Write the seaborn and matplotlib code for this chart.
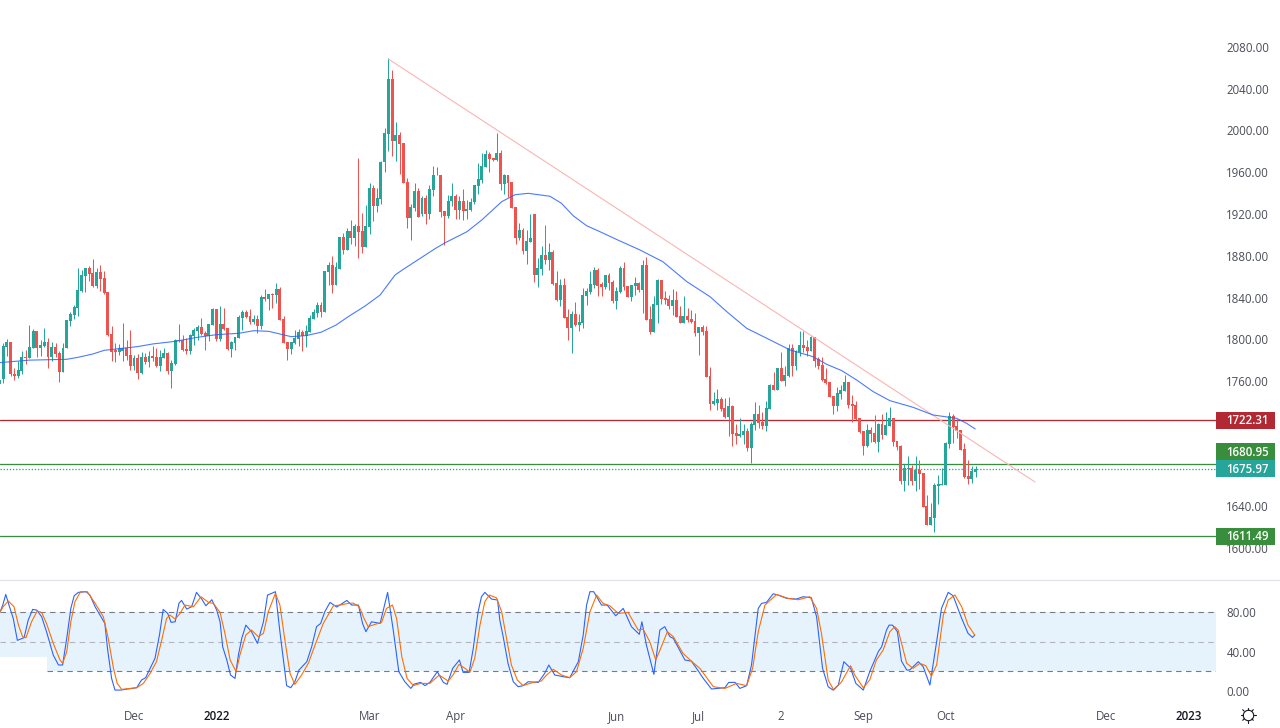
import matplotlib
matplotlib.use("Agg")
import matplotlib.pyplot as plt
from matplotlib.patches import Rectangle
from matplotlib.transforms import blended_transform_factory
import numpy as np
import seaborn as sns

# daily candles, bar 0 is the first one on the left
opens = [1757, 1762, 1793, 1797.4, 1767, 1765, 1770, 1783, 1782, 1792, 1808, 1792, 1793.6, 1797.4, 1783, 1792.6,
         1787, 1768.7, 1791.7, 1817.5, 1823, 1830, 1846, 1860.6, 1868, 1863.5, 1851, 1864, 1858.7, 1845,
         1805, 1789.7, 1787.8, 1788.8, 1791.7, 1785, 1774.4, 1782, 1767.7, 1783, 1778.3, 1784, 1783, 1774.4,
         1782, 1786.9, 1769.6, 1776.3, 1799, 1799, 1790.7, 1788.8, 1803, 1808, 1811.8, 1806, 1803, 1813.7,
         1829, 1800, 1814.7, 1810.8, 1790.7, 1796.5, 1801, 1820, 1826, 1822, 1816.6, 1819, 1812.7, 1840.5,
         1838.6, 1843, 1842, 1848, 1819, 1797.4, 1790.7, 1796.5, 1800, 1807, 1803, 1807, 1819, 1825,
         1833, 1826, 1864, 1871, 1852, 1867, 1898, 1885.5, 1903.7, 1896.7, 1908.5, 1903.7, 1888.4, 1908,
         1944.6, 1927.7, 1934.4, 1969.8, 1996.6, 2049.3, 1990, 1995.7, 1988, 1950.7, 1916, 1925.7, 1942, 1920,
         1935.3, 1920, 1943, 1957, 1957.4, 1923, 1918, 1932, 1937.2, 1923.8, 1932.5, 1923, 1923.8, 1931.5,
         1946.8, 1952.5, 1965, 1977.5, 1973.6, 1971.7, 1978.4, 1948.7, 1957.4, 1950.7, 1926.7, 1897, 1904.7, 1884.6,
         1893, 1920, 1861.6, 1867.3, 1880.7, 1876, 1883.6, 1854, 1837.6, 1852, 1821.3, 1810.8, 1824.2, 1813.7,
         1815.6, 1841.4, 1845.3, 1852, 1866.4, 1853, 1850, 1861.6, 1854.9, 1836.7, 1845.3, 1868.3, 1851, 1840.5,
         1851, 1853.9, 1847.2, 1871.2, 1819.4, 1807, 1832.8, 1856.8, 1839.5, 1838.6, 1831.9, 1837.6, 1822.3, 1815.6,
         1822.3, 1819.4, 1817.5, 1806, 1811.8, 1808, 1764.8, 1738, 1739, 1742.8, 1734.2, 1725.5, 1736.1, 1710.2,
         1707.3, 1707.9, 1712.1, 1695.9, 1717.9, 1728.4, 1720.8, 1716.9, 1733.2, 1756.2, 1751.4, 1772.5, 1760, 1764.8,
         1791.6, 1774.4, 1787.8, 1794.5, 1792.6, 1788.8, 1802.2, 1781.1, 1775.4, 1762, 1759.1, 1745.7, 1736.1, 1747.6,
         1750.5, 1759.1, 1738, 1737.1, 1724.6, 1712.2, 1697.8, 1713.1, 1710.3, 1701.6, 1718.9, 1708.3, 1717, 1724.6,
         1702.6, 1697.8, 1664.3, 1675.5, 1676.4, 1664.3, 1674.8, 1672, 1640.3, 1622.1, 1628.8, 1659.5, 1660.4, 1660.4,
         1699.7, 1726.5, 1717, 1713.1, 1695, 1669.1, 1666.2, 1672.9]
highs = [1762, 1796.5, 1800, 1797.4, 1772, 1779, 1789, 1790, 1813.7, 1810, 1808, 1799, 1810.8, 1801, 1797.4, 1796.5,
         1789, 1796.5, 1818.5, 1826, 1833, 1868, 1866, 1868, 1870, 1877, 1868, 1871, 1865, 1845,
         1812.7, 1796.5, 1795.5, 1815.6, 1799, 1808.9, 1785, 1785.9, 1787.8, 1786.9, 1788.8, 1793.6, 1791.7, 1790,
         1791.7, 1788, 1780, 1800, 1814.7, 1804, 1801, 1805, 1810.8, 1813.7, 1820, 1808, 1814.7, 1830,
         1829, 1832, 1830, 1810.8, 1798, 1802, 1823, 1828, 1828, 1829, 1823, 1823, 1842, 1848,
         1843, 1844, 1853.9, 1850, 1822, 1797.4, 1797.4, 1808.9, 1810, 1808.9, 1813.7, 1823, 1829, 1835.7,
         1835.7, 1865, 1874, 1880, 1874, 1898, 1902, 1907, 1914, 1910.4, 1973.7, 1921, 1928.6, 1949.4,
         1947.8, 1944.6, 1970.8, 2002.4, 2069.4, 2058, 2008, 1998.6, 1988, 1954.5, 1929.6, 1949.7, 1945, 1937,
         1938, 1947.8, 1966, 1964.7, 1957.4, 1923, 1938.2, 1949.4, 1939, 1937, 1944, 1933.4, 1935, 1947.8,
         1968.9, 1978.4, 1981.3, 1979.4, 1973.6, 1997.6, 1981.3, 1958.3, 1957.4, 1950.7, 1926.7, 1911.4, 1906.6, 1904.7,
         1920, 1920, 1877.9, 1889.4, 1909.5, 1892.2, 1885.5, 1865.4, 1857.7, 1858.7, 1829, 1827.1, 1835.7, 1824,
         1849.1, 1849.1, 1865.4, 1869.2, 1868.3, 1854.9, 1861.6, 1863.5, 1856.8, 1850, 1870.2, 1874, 1851, 1852,
         1859.7, 1855, 1875.9, 1878.8, 1831.9, 1841.5, 1857.7, 1856.8, 1846.2, 1842.4, 1848.2, 1846.2, 1831.9, 1841.5,
         1829.9, 1828, 1825.2, 1811.8, 1813.7, 1812.7, 1773.4, 1749.5, 1752.4, 1744.7, 1743.8, 1744.7, 1737, 1718.9,
         1724.6, 1718.9, 1715, 1720.8, 1740, 1737, 1730.3, 1740.9, 1757.2, 1768.7, 1772.5, 1787.8, 1774.4, 1795.5,
         1795.5, 1789.7, 1808, 1808, 1799.3, 1803.2, 1802.2, 1783, 1783, 1772.5, 1759.1, 1745.7, 1754.3, 1756.2,
         1765.8, 1759.1, 1746.7, 1740.9, 1724.6, 1712.2, 1718.9, 1716, 1727.5, 1719.8, 1728.5, 1730.4, 1735.2, 1724.6,
         1702.6, 1698.8, 1680.6, 1688.2, 1679.6, 1688.2, 1684.4, 1672, 1650.9, 1643.2, 1662.4, 1670, 1676.7, 1701.6,
         1730.4, 1728.5, 1723.7, 1713.1, 1700.7, 1684.4, 1678.6, 1678.6]
lows = [1754, 1758.5, 1784, 1765, 1761, 1763, 1767, 1776, 1781.7, 1792, 1782.7, 1784, 1793, 1772.5, 1779, 1783,
        1759, 1768.7, 1791.7, 1812.7, 1819.5, 1822, 1845, 1845, 1856, 1850, 1849, 1846, 1843, 1803,
        1779, 1778.3, 1785, 1779, 1780, 1770.6, 1770.6, 1762, 1766.8, 1776.3, 1773.4, 1779, 1773.4, 1769.6,
        1782, 1766.8, 1753.7, 1775.4, 1797.4, 1788.8, 1786, 1786, 1794.5, 1799, 1804, 1789.7, 1798, 1813.7,
        1798, 1798, 1808.9, 1789.7, 1783, 1789.7, 1801, 1808.9, 1820, 1814.7, 1814.7, 1806, 1809.9, 1836.7,
        1828, 1830, 1834.8, 1818.5, 1796.5, 1780, 1785.9, 1795.5, 1793.6, 1788.8, 1792.6, 1807, 1819, 1821,
        1821, 1826, 1852, 1844, 1852, 1867, 1882, 1885.5, 1891, 1889.4, 1878, 1882.7, 1888.4, 1900.9,
        1913.3, 1922, 1929.6, 1960.2, 1980.4, 1975.6, 1970.8, 1958.3, 1949.7, 1906.6, 1895, 1923, 1917, 1918,
        1910.4, 1915.2, 1937.2, 1957, 1917.4, 1890.3, 1915.9, 1927.7, 1915, 1915, 1914, 1915.2, 1923, 1930,
        1939, 1949.7, 1965, 1960.2, 1971, 1970.8, 1943, 1939, 1936.6, 1925.7, 1891.3, 1895.1, 1881.7, 1872.1,
        1893, 1854.9, 1850, 1861.6, 1872, 1866.4, 1852, 1836.7, 1831.9, 1820.4, 1799.3, 1786.9, 1812.7, 1808.2,
        1810.8, 1832.8, 1843.4, 1849.1, 1841.5, 1841.5, 1848.2, 1847.2, 1834.4, 1829, 1844.3, 1847.2, 1840.5, 1836.7,
        1842.4, 1845, 1825.2, 1818.5, 1805.1, 1807, 1815.6, 1833.8, 1833.8, 1829, 1823.3, 1821.3, 1815.6, 1815.6,
        1816.6, 1815.6, 1803.1, 1784.9, 1804.1, 1763.9, 1732.3, 1737, 1732.3, 1731.3, 1724.6, 1707.3, 1697.8, 1699.7,
        1706.4, 1699.7, 1693, 1681.2, 1713.1, 1715, 1714.1, 1712.1, 1733.2, 1751.4, 1751.4, 1760, 1755, 1763.9,
        1764.8, 1770.6, 1784, 1787.8, 1784, 1788.8, 1773.5, 1771.6, 1760, 1757.2, 1744.7, 1728.5, 1731.3, 1742.8,
        1750.5, 1734.2, 1720.8, 1722.7, 1710.3, 1689.2, 1696.8, 1701.6, 1700.7, 1692.1, 1704.5, 1708.3, 1717, 1697.8,
        1694, 1661.4, 1654.7, 1660.4, 1660.4, 1654.7, 1656.6, 1639.4, 1622.1, 1622.1, 1615.4, 1642.2, 1660.4, 1660.4,
        1695.9, 1700.7, 1705.5, 1694, 1667.1, 1661.4, 1662.4, 1668.1]
closes = [1761, 1793.6, 1797.4, 1767, 1765, 1770.6, 1783, 1782, 1792.6, 1808, 1792, 1794.5, 1797.4, 1783, 1792.6, 1786,
          1768.7, 1791.7, 1818.5, 1824, 1831, 1847, 1861.6, 1868, 1862.5, 1851, 1864, 1857.8, 1844, 1804,
          1787.8, 1787.8, 1791.7, 1791.7, 1784, 1774.4, 1782, 1767.7, 1783, 1778.3, 1784, 1782, 1774.4, 1783,
          1786.9, 1769.6, 1777.3, 1799, 1798, 1789.7, 1788.8, 1804, 1808.9, 1811.8, 1805, 1803, 1814.7, 1829,
          1800, 1814.7, 1809.9, 1790.7, 1797.4, 1802, 1821, 1826, 1821, 1816.6, 1819, 1812.7, 1840.5, 1838.6,
          1843, 1842, 1848, 1818.5, 1796.5, 1790.7, 1797.4, 1801, 1807, 1803, 1808, 1820, 1826, 1833,
          1826, 1865, 1871, 1852, 1869, 1898, 1885.5, 1903.7, 1896.7, 1908.5, 1902.8, 1888.4, 1908.5, 1944.6,
          1927.7, 1935, 1969.8, 1997.6, 2049.3, 1990, 1995.7, 1987, 1949.7, 1916, 1926.7, 1942, 1917, 1935.3,
          1920, 1943.6, 1957.4, 1957.4, 1922, 1918, 1932.5, 1937.2, 1923.8, 1932.5, 1923, 1925, 1931.5, 1947.8,
          1953.5, 1966, 1977.5, 1972.7, 1971.7, 1978.4, 1948.7, 1957.4, 1949.7, 1925.7, 1897, 1904.7, 1884.9, 1894.1,
          1897, 1861.6, 1868.3, 1880.7, 1876, 1883.6, 1853, 1837.6, 1852, 1820.4, 1810.8, 1824.2, 1813.7, 1816.6,
          1842.4, 1846.2, 1853, 1866.4, 1851, 1850, 1861.6, 1853.9, 1836.4, 1846.2, 1868.3, 1850, 1840.5, 1852,
          1853.9, 1847.2, 1871.2, 1818.5, 1807, 1833.8, 1856.8, 1838.6, 1837.6, 1831.9, 1837.6, 1821.3, 1815.6, 1822.3,
          1818.5, 1816.6, 1806, 1811.8, 1807, 1763.9, 1738, 1740.9, 1742.8, 1733.2, 1725.5, 1736.1, 1709.3, 1707.3,
          1709.3, 1712, 1695.9, 1718.9, 1728.4, 1719.8, 1716.9, 1734.2, 1756.2, 1751.4, 1772.5, 1760, 1765.8, 1791.6,
          1774.4, 1788.8, 1794.5, 1791.7, 1788.8, 1802.2, 1779.2, 1774.4, 1761, 1758.2, 1744.7, 1736.1, 1748.6, 1751.4,
          1759.1, 1737.1, 1736.1, 1723.7, 1711.2, 1697.8, 1713.1, 1709.3, 1701.6, 1718.9, 1708.3, 1717.9, 1724.6, 1701.6,
          1696.8, 1664.3, 1676.4, 1676.4, 1664.3, 1674.8, 1671, 1639.4, 1622.1, 1629.8, 1660.4, 1661.4, 1661.4, 1700.7,
          1726.5, 1716, 1712.2, 1694, 1668.1, 1666.2, 1673.9, 1676]

# 50 day average, vertices only
ma_idx = [0, 8, 18, 21, 25, 28, 32, 37, 41, 47, 53, 58, 64, 68, 72, 78, 82, 86, 90, 93.3, 97.8, 101.8, 105.8, 108,
          116.5, 119.2, 125, 129, 134.3, 137.9, 141.4, 147.2, 150.3, 153.4, 157, 160.6, 165.4, 171.3, 177.4, 183.8,
          190, 194.5, 199.8, 205.2, 211.4, 217.5, 221.2, 225.2, 229.2, 233.6, 238.1, 244.3, 249.6, 255.9, 258.6, 260.9]
ma_val = [1777.6, 1780, 1780.8, 1782.7, 1785.9, 1789.4, 1791, 1793, 1795.5, 1798, 1801.9, 1804.4, 1805.7, 1808.2,
          1807.6, 1802.5, 1803.5, 1806.7, 1813.6, 1821.7, 1831.9, 1842.4, 1861.6, 1867, 1886.8, 1892.5, 1903, 1914.3,
          1931.8, 1938.5, 1939.8, 1937, 1930.2, 1918.4, 1908.8, 1903, 1895, 1885.5, 1874.3, 1855.2, 1840.8, 1826.4,
          1810.5, 1800.9, 1789.8, 1783.4, 1776, 1770, 1761, 1749.9, 1741.2, 1734.8, 1727.5, 1724.3, 1719.5, 1714.1]

# stochastic %K
k_idx = [0.2, 0.9, 1.7, 2.7, 3.7, 4.8, 6.6, 7.7, 8.9, 10, 11.3, 12.6, 14.4, 15.8, 16.9, 18, 19.1, 20, 21.1, 23.2,
         24.2, 25.6, 26.9, 28.2, 28.9, 30, 30.9, 32.4, 36.7, 38, 39.1, 40.3, 41.6, 42.8, 43.8, 45, 45.9, 47, 48, 48.7,
         50.1, 51.4, 52.7, 54.1, 55.2, 56.8, 58.1, 59, 59.7, 60.8, 61.8, 63, 63.9, 64.8, 65.9, 67.4, 69, 70.6, 71.7,
         72.8, 73.8, 75, 76.8, 77.9, 79, 80.1, 82.2, 83.5, 84.8, 85.9, 87, 88.4, 90.2, 92.9, 94.2, 96, 97.1, 98, 99.5,
         101.8, 103.8, 105.3, 106.8, 108.4, 110, 110.9, 112.6, 113.8, 115.1, 117.1, 118.7, 119.7, 121.2, 123, 124,
         125.6, 126.7, 128, 128.9, 129.8, 131.6, 133.2, 133.8, 134.7, 136, 137.4, 138.7, 140, 141.4, 144.1, 145.8,
         146.9, 148.5, 150.8, 152.5, 154.8, 156.1, 157, 157.9, 158.9, 161, 162.5, 164.8, 166.8, 169, 171.1, 171.8,
         173, 175, 176.6, 177.9, 179.3, 180.2, 183.3, 185, 186.4, 188.2, 190.4, 194, 195, 196.7, 198, 199.8, 201.1,
         202.9, 203.8, 205.1, 206.9, 208.2, 210.5, 213.1, 214.9, 217.1, 218.5, 220.1, 221.6, 222.9, 224.3, 225.8,
         227.6, 229, 231, 232.7, 235, 235.9, 237.2, 237.9, 238.8, 240.1, 241.2, 242.6, 243.4, 245.7, 247, 248.8,
         250.6, 251.9, 253.7, 255, 257.3, 259, 260.2, 260.8]
k_val = [80.6, 87.4, 98.2, 85.7, 73.8, 51.5, 54.2, 72.1, 83, 82.3, 75.5, 60.3, 36.5, 26.4, 26.4, 53.5, 84, 96.9, 100.3,
         101, 97.6, 85.7, 77.2, 68.7, 43.3, 12.8, 0.9, 0.9, 3.3, 11.1, 13.5, 23, 33.2, 56.9, 83, 78.9, 69.8, 70.4, 89.1,
         92.1, 83.3, 85.7, 100.3, 93.5, 86.7, 92.8, 82.3, 70.4, 45, 31.5, 16.2, 12.8, 36.5, 53.5, 67, 60.3, 48.4, 70.4,
         97.6, 99.3, 101, 60.3, 5.4, 3.3, 9.4, 21.3, 29.8, 45, 65.4, 68.7, 80.6, 90.1, 85.4, 92.1, 87.4, 87.4, 68.7, 60.3,
         70.4, 68.7, 100.3, 62, 19.6, 9.4, 2.6, 7, 8.7, 5.4, 8.7, 19.6, 8.7, 6.7, 23, 31.5, 18.9, 18.9, 43.3, 80.6, 95.9,
         100.3, 93.5, 92.5, 72.1, 55.2, 28.1, 9.4, 4.3, 5.4, 9.4, 8.7, 17.9, 26.4, 16.2, 14.5, 13.5, 29.8, 56.9, 87.4,
         101, 101, 87.4, 87.4, 76.5, 84, 65.4, 57.6, 70.4, 46.7, 16.9, 62, 65.4, 55.2, 53.5, 31.5, 30.4, 23, 12.8, 2, 3.3,
         8.7, 8.7, 2.6, 5.4, 26.4, 84, 89.1, 90.1, 98.9, 97.6, 94.2, 93.5, 95.9, 94.9, 75.5, 23, 4.3, 0.9, 6, 29.8, 23,
         7.7, 0.9, 19.6, 39.9, 45, 62, 67, 67, 60.3, 30.4, 21.3, 21.3, 29.8, 24.7, 6, 50.1, 84, 100.3, 96.9, 73.8, 58.6,
         54.5, 56.9]

# stochastic %D
d_idx = [0.2, 1, 2.4, 3.9, 5.1, 6.2, 7.1, 8.6, 10.1, 11.3, 12.6, 14.4, 16.2, 16.9, 18, 19.1, 20.2, 21.7, 23.5, 25.6,
         27.8, 29.1, 30.5, 31.5, 32.7, 36.7, 38.5, 40.3, 42, 43.4, 44.7, 45.6, 47, 48.3, 49.6, 51.9, 53.9, 55.9, 57.2,
         59, 60.3, 61.7, 63.3, 64.3, 65.9, 67.4, 69.2, 70.6, 71.9, 73.8, 75, 76.4, 77.7, 79, 80.8, 82.6, 84.4, 86.6,
         89.3, 91.1, 93.3, 94.6, 96.2, 97.5, 98.6, 100.4, 102.2, 103.5, 105.1, 106.2, 107.6, 109, 110.7, 112.6, 115.1,
         117.6, 120, 121.3, 122.9, 124.5, 125.8, 127.1, 128.5, 129.8, 131, 132.9, 134.3, 135.6, 136.9, 138.5, 140,
         142.7, 144.9, 146.3, 148.1, 150.3, 152.5, 154.3, 156.1, 157.9, 159.7, 161.4, 163.2, 165.5, 168.1, 170.8,
         172.1, 173.9, 175.5, 177, 178.6, 180.2, 182.8, 185, 187.3, 190.9, 194, 197.1, 199.8, 201.4, 202.9, 204.7,
         207.8, 210.9, 213.6, 216.7, 218.5, 219.8, 221.6, 223.1, 225.2, 227.6, 228.7, 231, 232.7, 234.5, 236.3, 238.1,
         239.4, 240.3, 242.6, 244.3, 246.1, 247.7, 249.2, 250.6, 252.4, 253.7, 255.5, 257.3, 259, 260.8]
d_val = [80.6, 85.7, 91.5, 85.7, 67, 55.2, 54.2, 70.4, 81.3, 79.9, 68.7, 48.4, 31.5, 28.1, 39.9, 70.4, 90.8, 101, 101,
         89.1, 75.5, 53.5, 23, 7.7, 1.6, 3.3, 7.7, 17.9, 29.8, 51.8, 73.8, 77.2, 73.1, 78.9, 87.4, 85.7, 95.9, 90.1, 89.1,
         79.9, 58.6, 31.5, 19.6, 36.5, 56.9, 62, 55.2, 58.6, 80.6, 99.3, 87.4, 50.1, 17.9, 6.7, 16.2, 28.1, 46.7, 68.7,
         86.7, 87.4, 89.1, 89.4, 85.7, 73.8, 65.4, 67.7, 69.8, 84, 87.4, 73.8, 34.8, 12.8, 5.4, 7.7, 7.7, 16.2, 10.1, 16.2,
         27, 23, 18.9, 33.2, 67, 90.8, 97.6, 94.8, 80.6, 53.5, 26.4, 11.1, 5.4, 8.7, 10.1, 16.2, 22, 16.2, 13.5, 19.6, 43.3,
         80.6, 97.6, 89.1, 86.7, 78.9, 79.9, 62, 63, 50.1, 31.5, 45, 60.3, 55.2, 38.2, 30.4, 23, 4.3, 2.6, 7.7, 5.4, 23,
         60.3, 87.4, 98.2, 94.2, 92.8, 95.9, 84, 58.6, 11.1, 0.9, 9.4, 25.7, 16.2, 3.3, 11.1, 31.5, 41.6, 60.3, 65.4, 62,
         28.1, 23, 28.1, 25.7, 15.2, 26.4, 77.2, 92.5, 97.6, 85.7, 67, 56.9]

trend_idx = [104, 276.9]
trend_val = [2068.5, 1663.3]

level_prices = [1722.31, 1680.95, 1611.49]
level_colors = ["#b22833", "#388e3c", "#388e3c"]
last_price = 1675.97

# 1680 and 1720 sit under the price tags in the reference, so they are left out
price_ticks = [1600, 1640, 1760, 1800, 1840, 1880, 1920, 1960, 2000, 2040, 2080]
stoch_ticks = [0, 40, 80]
date_ticks = [36, 58, 99, 122, 165, 187, 209, 231, 253, 296, 318]
date_labels = ["Dec", "2022", "Mar", "Apr", "Jun", "Jul", "2", "Sep", "Oct", "Dec", "2023"]

GREEN = "#26a69a"
RED = "#ef5350"
TEXT = "#4a4d58"
BAND = "#e6f3fd"
W, H = 1280, 728
XLIM = (0.16, 325.3)
PX = 72 / 100  # one pixel in points

sns.set_theme(style="white")
plt.rcParams["font.family"] = ["Open Sans", "DejaVu Sans"]

fig = plt.figure(figsize=(W / 100, H / 100), dpi=100, facecolor="white")
ax = fig.add_axes([0, (H - 578) / H, 1216 / W, 578 / H])
ax2 = fig.add_axes([0, (H - 700) / H, 1216 / W, 120 / H])

# candles
idx = np.arange(len(closes))
o, h, l, c = map(np.array, (opens, highs, lows, closes))
col = np.where(c >= o, GREEN, RED)
ax.vlines(idx, l, h, colors=col, lw=PX, zorder=3)
ax.bar(idx, np.maximum(np.abs(c - o), 0.8), bottom=np.minimum(o, c), width=0.78, color=col, lw=0, zorder=3)

sns.lineplot(x=trend_idx, y=trend_val, ax=ax, color="#f9b4b4", lw=1.1 * PX, estimator=None, zorder=4)
sns.lineplot(x=ma_idx, y=ma_val, ax=ax, color="#2962ff", lw=1.1 * PX, alpha=0.85, estimator=None, sort=False, zorder=4)

for p, pc in zip(level_prices, level_colors):
    ax.axhline(p, color=pc, lw=1.3 * PX, zorder=2)
ax.axhline(last_price, color=GREEN, lw=1.3 * PX, ls=(0, (1, 1.4)), zorder=2)

ax.set_xlim(*XLIM)
ax.set_ylim(1571.3, 2125)
ax.set_yticks(price_ticks)
ax.set_yticklabels([f"{v:.2f}" for v in price_ticks])
ax.set_xticks([])

# price tags at the right, the 1680.95 one is pushed up by the one below it
tr = blended_transform_factory(ax.transAxes, ax.transData)
tag_centers = [1722.31, 1692.4, 1675.97, 1611.49]
tag_text = ["1722.31", "1680.95", "1675.97", "1611.49"]
tag_colors = ["#b22833", "#388e3c", GREEN, "#388e3c"]
for yc, t, tc in zip(tag_centers, tag_text, tag_colors):
    ax.add_patch(Rectangle((1.0, yc - 8.15), 59 / 1216, 16.3, transform=tr, color=tc, lw=0, clip_on=False, zorder=6))
    ax.text(1 + 31.5 / 1216, yc - 0.4, t, transform=tr, color="white", fontsize=8.3, fontweight="semibold",
            ha="center", va="center", clip_on=False, zorder=7)

# stochastic panel
ax2.add_patch(Rectangle((0.16, 35), 12.7 - 0.16, 45, color=BAND, lw=0, zorder=1))
ax2.add_patch(Rectangle((12.7, 20), XLIM[1] - 12.7, 60, color=BAND, lw=0, zorder=1))
ax2.plot(XLIM, [80, 80], color="#787b86", lw=1.1 * PX, ls=(0, (5, 4)), zorder=2)
ax2.plot([12.7, XLIM[1]], [20, 20], color="#787b86", lw=1.1 * PX, ls=(0, (5, 4)), zorder=2)
ax2.plot(XLIM, [50, 50], color="#b2b5be", lw=1.1 * PX, ls=(0, (5, 4)), zorder=2)

sns.lineplot(x=k_idx, y=k_val, ax=ax2, color="#2962ff", lw=1.1 * PX, estimator=None, sort=False, zorder=3)
sns.lineplot(x=d_idx, y=d_val, ax=ax2, color="#ff6d00", lw=1.1 * PX, estimator=None, sort=False, zorder=4)

ax2.set_xlim(*XLIM)
ax2.set_ylim(-9.2, 112.9)
ax2.set_yticks(stoch_ticks)
ax2.set_yticklabels([f"{v:.2f}" for v in stoch_ticks])
ax2.set_xticks(date_ticks)
ax2.set_xticklabels(date_labels)

for a in (ax, ax2):
    a.set_xlabel("")
    a.set_ylabel("")
    a.set_facecolor("none")
    a.yaxis.tick_right()
    a.tick_params(axis="y", length=0, pad=7.5, labelsize=8.3, labelcolor=TEXT)
    a.tick_params(axis="x", length=0, pad=7, labelsize=8.3, labelcolor=TEXT)
    sns.despine(ax=a, left=True, right=True, top=True, bottom=True)

# year labels are darker, set after tick_params so they keep it
for lab in ax2.get_xticklabels():
    if lab.get_text() in ("2022", "2023"):
        lab.set_color("#131722")
        lab.set_fontweight("semibold")

# separator between panes and the settings icon in the corner
ov = fig.add_axes([0, 0, 1, 1], zorder=-1)
ov.set_xlim(0, W)
ov.set_ylim(H, 0)
ov.axis("off")
ov.plot([0, W], [579.5, 579.5], color="#e0e3eb", lw=1.3 * PX)
ov.plot([1248], [715], marker="o", ms=7.5, mfc="none", mec="#131722", mew=0.8)
for ang in np.arange(0, 360, 45):
    dx, dy = np.cos(np.radians(ang)), np.sin(np.radians(ang))
    ov.plot([1248 + 5.5 * dx, 1248 + 7.5 * dx], [715 + 5.5 * dy, 715 + 7.5 * dy], color="#131722", lw=0.8)

fig.savefig("out.png", dpi=100)
